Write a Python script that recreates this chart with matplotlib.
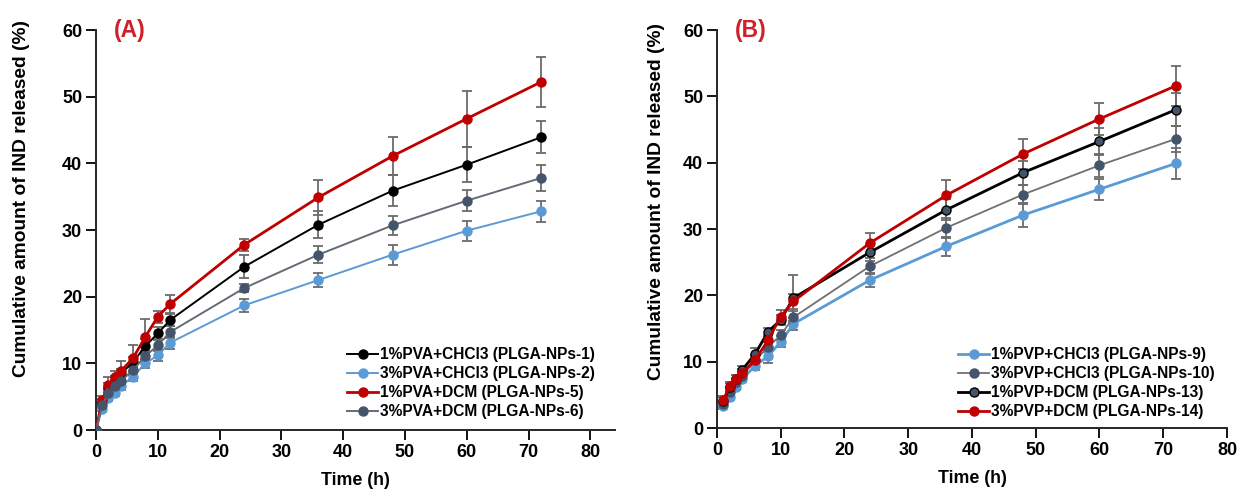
import numpy as np
import matplotlib.pyplot as plt

plt.rcParams['font.family'] = ['Liberation Sans', 'DejaVu Sans']
plt.rcParams['font.weight'] = 'bold'

# ---- panel A: PVA formulations ----
time_a = [0, 1, 2, 3, 4, 6, 8, 10, 12, 24, 36, 48, 60, 72]
pva1_chcl3 = [0, 4.2, 6.5, 7.5, 8.4, 10.2, 12.6, 14.5, 16.5, 24.5, 30.8, 35.9, 39.8, 43.9]
pva1_chcl3_sd = [0, 0.5, 0.6, 0.6, 0.7, 0.8, 1.0, 1.0, 0.9, 1.7, 2.0, 2.3, 2.6, 2.4]
pva3_chcl3 = [0, 3.2, 4.8, 5.6, 6.6, 8.0, 10.0, 11.2, 13.1, 18.7, 22.5, 26.3, 29.9, 32.8]
pva3_chcl3_sd = [0, 0.4, 0.5, 0.5, 0.6, 0.6, 0.7, 0.8, 0.9, 1.0, 1.1, 1.5, 1.5, 1.6]
pva1_dcm = [0, 4.5, 6.8, 7.9, 8.8, 10.8, 14.0, 17.0, 18.9, 27.8, 34.9, 41.1, 46.7, 52.2]
pva1_dcm_sd = [0, 0.6, 1.2, 1.0, 1.6, 2.0, 2.6, 0.9, 1.3, 0.9, 2.6, 2.8, 4.2, 3.8]
pva3_dcm = [0, 3.7, 5.6, 6.6, 7.3, 9.0, 11.1, 12.7, 14.7, 21.3, 26.3, 30.7, 34.4, 37.8]
pva3_dcm_sd = [0, 0.4, 0.5, 0.5, 0.6, 0.7, 0.8, 0.9, 0.9, 0.6, 1.3, 1.4, 1.6, 2.0]

labels_a = ['1%PVA+CHCl3 (PLGA-NPs-1)', '3%PVA+CHCl3 (PLGA-NPs-2)',
            '1%PVA+DCM (PLGA-NPs-5)', '3%PVA+DCM (PLGA-NPs-6)']

# ---- panel B: PVP formulations ----
time_b = [1, 2, 3, 4, 6, 8, 10, 12, 24, 36, 48, 60, 72]
pvp1_chcl3 = [3.3, 4.7, 6.2, 7.4, 9.4, 10.8, 13.0, 15.7, 22.3, 27.4, 32.1, 36.0, 39.9]
pvp1_chcl3_sd = [0.4, 0.5, 0.5, 0.5, 0.6, 1.0, 0.8, 0.9, 1.0, 1.4, 1.8, 1.6, 2.3]
pvp3_chcl3 = [3.6, 5.5, 7.0, 7.9, 10.2, 12.2, 14.0, 16.7, 24.4, 30.2, 35.2, 39.6, 43.6]
pvp3_chcl3_sd = [0.4, 0.5, 0.5, 0.5, 0.6, 0.7, 0.8, 0.9, 1.2, 1.5, 1.5, 1.7, 2.0]
pvp1_dcm = [4.0, 6.2, 7.4, 8.8, 11.2, 14.5, 16.3, 19.6, 26.5, 32.9, 38.5, 43.2, 48.0]
pvp1_dcm_sd = [0.8, 0.6, 0.6, 0.5, 0.8, 0.6, 0.8, 3.4, 1.3, 1.6, 1.8, 2.0, 2.5]
pvp3_dcm = [4.2, 6.4, 7.4, 8.3, 10.3, 13.2, 16.8, 19.1, 27.9, 35.1, 41.3, 46.6, 51.6]
pvp3_dcm_sd = [0.5, 0.6, 0.6, 0.6, 0.7, 0.8, 1.0, 1.1, 1.5, 2.3, 2.2, 2.4, 3.0]

labels_b = ['1%PVP+CHCl3 (PLGA-NPs-9)', '3%PVP+CHCl3 (PLGA-NPs-10)',
            '1%PVP+DCM (PLGA-NPs-13)', '3%PVP+DCM (PLGA-NPs-14)']

RED = '#C00000'
BLUE = '#5B9BD5'
SLATE = '#44546A'
ERR = '#6b6b6b'

fig = plt.figure(figsize=(12.37, 4.9), dpi=100)
ax_a = fig.add_axes([0.0776, 0.1224, 0.4196, 0.8163])
ax_b = fig.add_axes([0.5796, 0.1265, 0.4123, 0.8122])


def draw_series(ax, t, y, sd, label, line_col, face, edge, lw):
    ax.errorbar(t, y, yerr=sd, fmt='none', ecolor=ERR, elinewidth=1.3,
                capsize=3.5, capthick=1.3, zorder=2)
    ax.plot(t, y, '-o', color=line_col, lw=lw, ms=6.5, mfc=face, mec=edge,
            mew=1.0, label=label, zorder=3)


draw_series(ax_a, time_a, pva1_chcl3, pva1_chcl3_sd, labels_a[0], 'black', 'black', 'black', 1.4)
draw_series(ax_a, time_a, pva3_chcl3, pva3_chcl3_sd, labels_a[1], BLUE, BLUE, BLUE, 1.4)
draw_series(ax_a, time_a, pva1_dcm, pva1_dcm_sd, labels_a[2], RED, RED, RED, 2.0)
draw_series(ax_a, time_a, pva3_dcm, pva3_dcm_sd, labels_a[3], '#646b75', SLATE, SLATE, 1.4)

draw_series(ax_b, time_b, pvp1_chcl3, pvp1_chcl3_sd, labels_b[0], BLUE, BLUE, BLUE, 2.0)
draw_series(ax_b, time_b, pvp3_chcl3, pvp3_chcl3_sd, labels_b[1], '#707070', SLATE, SLATE, 1.3)
draw_series(ax_b, time_b, pvp1_dcm, pvp1_dcm_sd, labels_b[2], 'black', SLATE, 'black', 2.0)
draw_series(ax_b, time_b, pvp3_dcm, pvp3_dcm_sd, labels_b[3], RED, RED, RED, 2.0)

# per-panel: x limit, panel tag, y-label anchor, legend anchor
panels = [
    (ax_a, 84, '(A)', (-0.127, 0.58), (0.983, 0.0)),
    (ax_b, 80, '(B)', (-0.102, 0.568), (0.998, -0.005)),
]
for ax, xmax, tag, ylab_pos, leg_pos in panels:
    ax.set_xlim(0, xmax)
    ax.set_ylim(0, 60)
    ax.set_xticks(np.arange(0, 81, 10))
    ax.set_yticks(np.arange(0, 61, 10))
    for side in ['top', 'right']:
        ax.spines[side].set_visible(False)
    for side in ['left', 'bottom']:
        ax.spines[side].set_linewidth(1.4)
        ax.spines[side].set_color('#262626')
    ax.tick_params(direction='out', length=7, width=1.3, labelsize=13, pad=3)
    for lab in ax.get_xticklabels() + ax.get_yticklabels():
        lab.set_fontweight('bold')
    ax.set_xlabel('Time (h)', fontsize=12.8, fontweight='bold', labelpad=8)
    ax.set_ylabel('Cumulative amount of IND released (%)', fontsize=13.8,
                  fontweight='bold')
    ax.yaxis.set_label_coords(*ylab_pos)
    ax.text(0.035, 1.0, tag, transform=ax.transAxes, color='#D0202A',
            fontsize=16.5, fontweight='bold', va='center', ha='left')
    ax.legend(loc='lower right', bbox_to_anchor=leg_pos,
              frameon=False, handlelength=2.0, handletextpad=0.15,
              labelspacing=0.25, borderpad=0.2, numpoints=1,
              prop={'weight': 'bold', 'size': 11.2})

fig.savefig('out.png', dpi=100)
